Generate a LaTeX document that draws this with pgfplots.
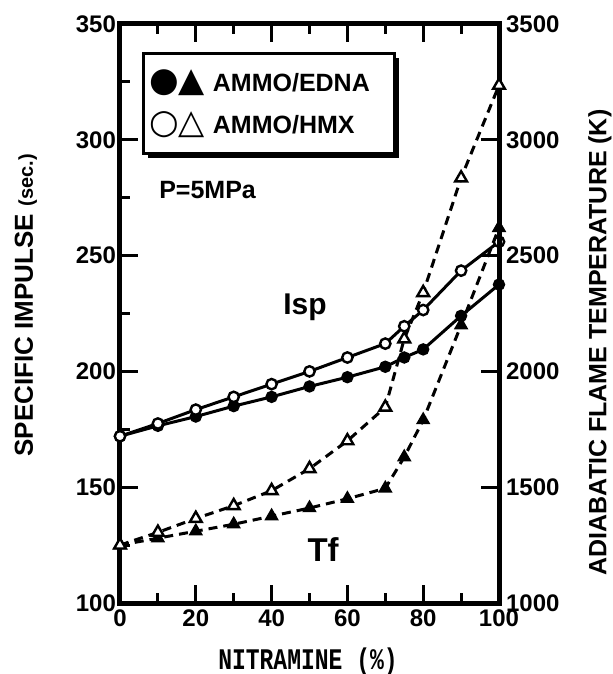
\documentclass[border=0pt]{standalone}
\usepackage{fontspec}
\setmainfont{Liberation Sans}
\newfontfamily\symfont{DejaVu Sans}
\newfontfamily\monofont{Liberation Mono}
\usepackage{pgfplots}
\pgfplotsset{compat=1.18}
\usepackage{pgfplotstable}
\usetikzlibrary{shadows}

\pgfplotstableread{
x isp
0 172
10 176.5
20 180.5
30 185
40 189
50 193.5
60 197.5
70 202
75 206
80 209.5
90 224
100 237.5
}\ednaisp
\pgfplotstableread{
x isp
0 172
10 177.5
20 183.5
30 189
40 194.5
50 200
60 206
70 212
75 219.5
80 226.5
90 243.5
100 256
}\hmxisp
\pgfplotstableread{
x tf
0 1250
10 1280
20 1310
30 1340
40 1375
50 1410
60 1450
70 1495
75 1630
80 1790
90 2200
100 2620
}\ednatf
\pgfplotstableread{
x tf
0 1250
10 1305
20 1365
30 1420
40 1485
50 1580
60 1700
70 1845
75 2140
80 2340
90 2835
100 3235
}\hmxtf

\pgfplotsset{
  common/.style={
    width=189.5pt, height=289.5pt, scale only axis,
    xmin=0, xmax=100,
    tick align=inside,
    major tick length=9pt, minor tick length=5pt,
    every tick/.style={black, line width=1.5pt},
    axis line style={line width=2.5pt},
    tick label style={font=\bfseries\fontsize{12}{12}\selectfont},
    /pgf/number format/assume math mode=true,
    /pgf/number format/set thousands separator={},
    clip=false,
  },
}

\begin{document}
\begin{tikzpicture}
\useasboundingbox (-60pt,-35.5pt) rectangle (246pt,301.5pt);
\begin{axis}[common,
  ymin=100, ymax=350,
  xtick={0,20,...,100}, minor xtick={10,30,...,90},
  xtick pos=both, xticklabel pos=bottom,
  ytick={100,150,...,350}, minor ytick={125,175,...,325},
  ytick pos=left,
  yticklabel style={xshift=1.5pt},
]
\addplot[black, line width=1.5pt, mark=*, mark size=2.6pt,
  mark options={solid, fill=black, line width=1pt}] table[x=x,y=isp] {\ednaisp};
\addplot[black, line width=1.5pt, mark=*, mark size=2.6pt,
  mark options={solid, fill=white, line width=1.2pt}] table[x=x,y=isp] {\hmxisp};

\node[draw, line width=1.5pt, fill=white, anchor=north west,
  drop shadow={fill=black, opacity=1, shadow xshift=2.5pt, shadow yshift=-2.5pt},
  text width=119.5pt, minimum height=50pt, inner xsep=3pt, inner ysep=2pt,
  align=left, font=\bfseries\fontsize{12.5}{21}\selectfont]
  at (rel axis cs:0.057,0.952)
  {{\symfont\fontsize{17}{21}\selectfont ●▲}\hspace{4pt}AMMO/EDNA\\
   {\symfont\fontsize{17}{21}\selectfont ○△}\hspace{4pt}AMMO/HMX};

\node[font=\bfseries\fontsize{12.5}{14}\selectfont, anchor=west]
  at (rel axis cs:0.085,0.713) {P=5MPa};
\node[font=\bfseries\fontsize{15}{16}\selectfont]
  at (rel axis cs:0.488,0.511) {Isp};
\node[font=\bfseries\fontsize{16.5}{17}\selectfont]
  at (rel axis cs:0.536,0.092) {Tf};

\node[rotate=90, font=\bfseries\fontsize{13}{14}\selectfont]
  at ([xshift=-47pt]rel axis cs:0,0.514)
  {SPECIFIC IMPULSE {\fontsize{10}{11}\selectfont(sec.)}};
\node[font=\monofont\bfseries\fontsize{11.5}{12}\selectfont]
  at ([yshift=-29.5pt]rel axis cs:0.496,0)
  {\scalebox{1}[1.3]{NITRAMINE (\%)}};
\end{axis}

\begin{axis}[common,
  ymin=1000, ymax=3500,
  axis x line=none,
  axis y line*=right,
  ytick={1000,1500,...,3500},
  ytick pos=right,
]
\addplot[black, line width=1.5pt, dash pattern=on 4.5pt off 3pt, mark=triangle*, mark size=3.4pt,
  mark options={solid, fill=black, line width=0.8pt}] table[x=x,y=tf] {\ednatf};
\addplot[black, line width=1.5pt, dash pattern=on 4.5pt off 3pt, mark=triangle*, mark size=3.4pt,
  mark options={solid, fill=white, line width=1.2pt}] table[x=x,y=tf] {\hmxtf};
\node[rotate=90, font=\bfseries\fontsize{12.5}{14}\selectfont]
  at ([xshift=50.5pt]rel axis cs:1,0.45)
  {ADIABATIC FLAME TEMPERATURE (K)};
\end{axis}
\end{tikzpicture}
\end{document}
